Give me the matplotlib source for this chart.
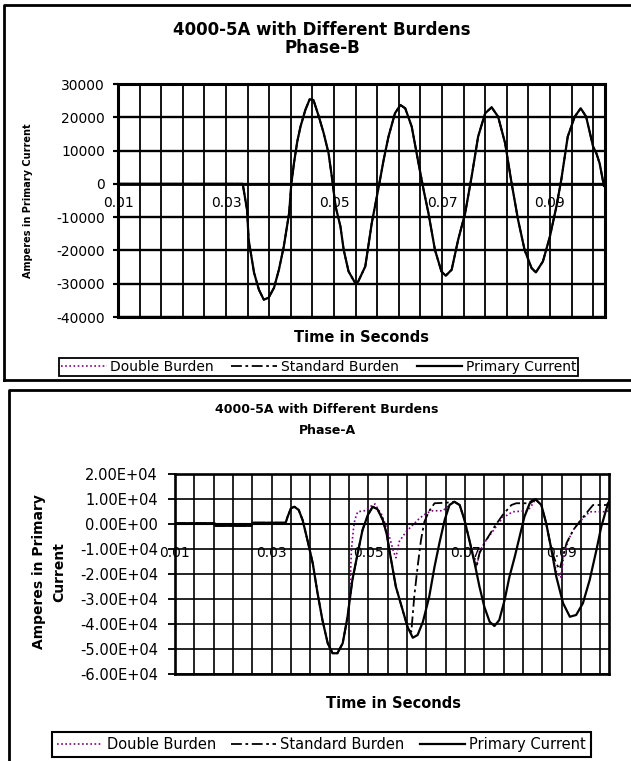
import numpy as np
import matplotlib
matplotlib.use("Agg")
import matplotlib.pyplot as plt
from matplotlib.lines import Line2D
from matplotlib.ticker import MultipleLocator, FuncFormatter

# ---- Phase-B (upper chart), seconds / amperes ----
time_b = [0.0100, 0.0331, 0.0339, 0.0342, 0.0352, 0.0361, 0.0370, 0.0379, 0.0389,
          0.0398, 0.0407, 0.0417, 0.0421, 0.0426, 0.0432, 0.0438, 0.0447, 0.0455,
          0.0462, 0.0472, 0.0481, 0.0490, 0.0496, 0.0503, 0.0512, 0.0518, 0.0527,
          0.0540, 0.0545, 0.0558, 0.0570, 0.0583, 0.0592, 0.0601, 0.0613, 0.0623,
          0.0632, 0.0644, 0.0656, 0.0666, 0.0675, 0.0687, 0.0699, 0.0707, 0.0718,
          0.0730, 0.0743, 0.0755, 0.0767, 0.0780, 0.0792, 0.0804, 0.0817, 0.0829,
          0.0841, 0.0853, 0.0866, 0.0874, 0.0887, 0.0900, 0.0912, 0.0921, 0.0933,
          0.0946, 0.0957, 0.0967, 0.0980, 0.0986, 0.0992, 0.1000]
primary_b = [0, 0, -7800, -16800, -26700, -31800, -34800, -34200, -31200,
             -25800, -18900, -8700, 0, 6300, 12700, 17200, 22200, 25400,
             25200, 20200, 15200, 9200, 2200, -6800, -12800, -19800, -26300,
             -30000, -29300, -24800, -11800, -800, 7200, 14200, 21200, 23700,
             22700, 17200, 6700, -1800, -8800, -19800, -26300, -27600, -25800,
             -16800, -8800, 2200, 14200, 21200, 23000, 20200, 12200, 200,
             -10800, -19800, -25300, -26600, -23300, -15800, -6800, 1200, 14200,
             20200, 22700, 20200, 11200, 9200, 6200, -600]
# both burden traces sit on top of the primary trace in this phase
standard_b = list(primary_b)
double_b = list(primary_b)

# ---- Phase-A (lower chart) ----
time_a = [0.0100, 0.0182, 0.0184, 0.0258, 0.0260, 0.0329, 0.0333, 0.0340, 0.0347,
          0.0356, 0.0364, 0.0374, 0.0385, 0.0395, 0.0405, 0.0416, 0.0426, 0.0436,
          0.0447, 0.0457, 0.0467, 0.0478, 0.0488, 0.0499, 0.0509, 0.0519, 0.0530,
          0.0538, 0.0545, 0.0557, 0.0571, 0.0581, 0.0592, 0.0602, 0.0613, 0.0626,
          0.0637, 0.0647, 0.0658, 0.0668, 0.0678, 0.0689, 0.0699, 0.0709, 0.0720,
          0.0730, 0.0740, 0.0751, 0.0761, 0.0771, 0.0782, 0.0792, 0.0803, 0.0813,
          0.0823, 0.0834, 0.0846, 0.0858, 0.0868, 0.0879, 0.0889, 0.0903, 0.0917,
          0.0930, 0.0944, 0.0958, 0.0972, 0.0982, 0.0993, 0.0998]
primary_a = [300, 300, -700, -700, 500, 500, 2900, 6300, 6900,
             5600, 1600, -6400, -15700, -27700, -38400, -47700, -51700, -51700,
             -47700, -37100, -22400, -11700, -2400, 3600, 6900, 5900, 1600,
             -4000, -12000, -25100, -34400, -41100, -45500, -44400, -39100, -29100,
             -17100, -7700, 1600, 7600, 8900, 7600, 1600, -6400, -15700,
             -25100, -33100, -39100, -40800, -38400, -30400, -21100, -13100, -5100,
             2900, 8300, 9900, 7600, 300, -10400, -21100, -31700, -37100,
             -36400, -31700, -22400, -10400, -1100, 6300, 8900]

time_a_std = [0.0100, 0.0182, 0.0184, 0.0258, 0.0260, 0.0329, 0.0333, 0.0340, 0.0347,
              0.0356, 0.0364, 0.0374, 0.0385, 0.0395, 0.0405, 0.0416, 0.0426, 0.0436,
              0.0447, 0.0457, 0.0467, 0.0478, 0.0488, 0.0499, 0.0509, 0.0519, 0.0530,
              0.0538, 0.0545, 0.0557, 0.0571, 0.0581, 0.0589, 0.0595, 0.0602, 0.0609,
              0.0616, 0.0625, 0.0637, 0.0661, 0.0678, 0.0689, 0.0699, 0.0709, 0.0716,
              0.0723, 0.0730, 0.0744, 0.0761, 0.0778, 0.0796, 0.0806, 0.0830, 0.0840,
              0.0846, 0.0858, 0.0868, 0.0879, 0.0889, 0.0896, 0.0910, 0.0924, 0.0937,
              0.0951, 0.0965, 0.0993, 0.0998]
standard_a = [300, 300, -700, -700, 500, 500, 2900, 6300, 6900,
              5600, 1600, -6400, -15700, -27700, -38400, -47700, -51700, -51700,
              -47700, -37100, -22400, -11700, -2400, 3600, 6900, 5900, 1600,
              -4000, -12000, -25100, -34400, -41100, -43100, -29100, -17100, -6400,
              900, 4900, 8300, 8500, 8900, 7600, 1600, -6400, -12000,
              -17700, -11700, -6400, -1100, 3600, 7600, 8300, 8300, 9500,
              9900, 7600, 300, -10400, -16000, -18000, -7700, -2400, 900,
              4300, 7600, 7600, 8900]

time_a_dbl = [0.0100, 0.0182, 0.0184, 0.0258, 0.0260, 0.0329, 0.0333, 0.0340, 0.0347,
              0.0356, 0.0364, 0.0374, 0.0385, 0.0395, 0.0405, 0.0416, 0.0426, 0.0436,
              0.0447, 0.0459, 0.0461, 0.0463, 0.0465, 0.0469, 0.0472, 0.0478, 0.0492,
              0.0509, 0.0514, 0.0520, 0.0527, 0.0535, 0.0545, 0.0552, 0.0557, 0.0564,
              0.0578, 0.0592, 0.0606, 0.0620, 0.0633, 0.0654, 0.0668, 0.0678, 0.0689,
              0.0699, 0.0709, 0.0718, 0.0726, 0.0730, 0.0744, 0.0761, 0.0778, 0.0799,
              0.0830, 0.0840, 0.0846, 0.0858, 0.0868, 0.0879, 0.0889, 0.0898, 0.0905,
              0.0915, 0.0924, 0.0937, 0.0951, 0.0958, 0.0993, 0.0998]
double_a = [300, 300, -700, -700, 500, 500, 2900, 6300, 6900,
            5600, 1600, -6400, -15700, -27700, -38400, -47700, -51700, -51700,
            -47700, -35700, -29100, -21100, -10400, -2400, 1600, 4900, 5300,
            7600, 8000, 6000, 4000, 0, -6000, -11000, -13500, -7000,
            -3100, -400, 2300, 4300, 5300, 5300, 7600, 8900, 7600,
            1600, -6400, -13000, -15700, -11000, -6400, -2000, 2500, 4900,
            5300, 8000, 9900, 7600, 300, -10400, -19000, -21500, -12000,
            -6000, -2400, 900, 3500, 4900, 4900, 5500]

series_names = ["Double Burden", "Standard Burden", "Primary Current"]
x_ticks = [0.01, 0.03, 0.05, 0.07, 0.09]
x_labels = ["0.01", "0.03", "0.05", "0.07", "0.09"]

W, H = 631, 761
fig = plt.figure(figsize=(W / 100, H / 100), dpi=100)


def px_rect(l, t, r, b):
    return [l / W, 1 - b / H, (r - l) / W, (b - t) / H]


def fig_line(xs, ys, lw):
    fig.add_artist(Line2D([x / W for x in xs], [1 - y / H for y in ys],
                          transform=fig.transFigure, color="k", lw=lw,
                          solid_capstyle="projecting"))


def setup_axes(ax, ylim, ystep, xmax, yfmt, xfs, yfs, vgrid_lw, hgrid_lw,
               border_lw, xpad, ylen, ypad):
    ax.set_xlim(0.01, xmax)
    ax.set_ylim(*ylim)
    ax.yaxis.set_major_locator(MultipleLocator(ystep))
    ax.yaxis.set_major_formatter(FuncFormatter(yfmt))
    ax.set_xticks(x_ticks)
    ax.set_xticklabels(x_labels)
    ax.xaxis.set_minor_locator(MultipleLocator(0.004, offset=0.002))
    ax.grid(which="both", axis="x", color="k", lw=vgrid_lw)
    ax.grid(which="major", axis="y", color="k", lw=hgrid_lw)
    ax.set_axisbelow(True)
    for s in ax.spines.values():
        s.set_linewidth(border_lw)
    # category labels hang from the zero line, as in the Excel original
    ax.spines["bottom"].set_position(("data", 0))
    ax.spines["bottom"].set_linewidth(hgrid_lw + 0.3)
    ax.plot([0, 1], [0, 0], transform=ax.transAxes, color="k", lw=border_lw,
            clip_on=False, solid_capstyle="projecting")
    ax.tick_params(axis="x", which="both", length=0, pad=xpad, labelsize=xfs)
    ax.tick_params(axis="y", direction="out", length=ylen, width=border_lw * 0.7,
                   pad=ypad, labelsize=yfs)


styles = [
    dict(color="#800080", ls=(0, (1, 1.5)), lw=1.2),
    dict(color="k", ls=(0, (6, 2, 1.5, 2)), lw=1.3),
    dict(color="k", ls="-", lw=1.6),
]

# ---------------- upper chart: Phase-B ----------------
fig_line([4, 4, 640], [380, 5, 5], 2.0)
fig_line([4, 640], [380, 380], 2.0)

ax1 = fig.add_axes(px_rect(118, 84, 605, 317))
setup_axes(ax1, (-40000, 30000), 10000, 0.1002, lambda v, p: f"{v:.0f}",
           10, 10, 1.3, 1.7, 2.2, 8.4, 3.6, 5.8)
h1 = []
for (t, v), name, st, z in zip([(time_b, double_b), (time_b, standard_b), (time_b, primary_b)],
                               series_names, styles, [2, 3, 4]):
    h1 += ax1.plot(t, v, label=name, zorder=z, **st)

fig.text(322 / W, 1 - 39 / H, "4000-5A with Different Burdens\nPhase-B",
         ha="center", va="center", fontsize=12, fontweight="bold",
         linespacing=0.97)
fig.text(362 / W, 1 - 337 / H, "Time in Seconds", ha="center", va="center",
         fontsize=10.5, fontweight="bold")
fig.text(28 / W, 1 - 201 / H, "Amperes in Primary Current", rotation=90,
         ha="center", va="center", fontsize=7, fontweight="bold")

leg1 = ax1.legend(h1, series_names, loc="center", ncol=3, mode="expand",
                  bbox_to_anchor=(59 / W, 1 - 377 / H, 519 / W, 20 / H),
                  bbox_transform=fig.transFigure, fontsize=10, frameon=True,
                  fancybox=False, framealpha=1, borderpad=0.12, borderaxespad=0,
                  handlelength=3.3, handletextpad=0.25, columnspacing=0.3)
leg1.get_frame().set_edgecolor("k")
leg1.get_frame().set_linewidth(1.3)

# ---------------- lower chart: Phase-A ----------------
fig_line([9, 9, 640], [770, 390, 390], 2.0)

ax2 = fig.add_axes(px_rect(175, 474, 609, 674))
setup_axes(ax2, (-60000, 20000), 10000, 0.0998, lambda v, p: f"{v:.2E}",
           10, 10.5, 1.2, 1.2, 1.9, 15.8, 5.0, 7.2)
h2 = []
for (t, v), name, st, z in zip([(time_a_dbl, double_a), (time_a_std, standard_a),
                                (time_a, primary_a)],
                               series_names, styles, [2, 3, 4]):
    h2 += ax2.plot(t, v, label=name, zorder=z, **st)

fig.text(327 / W, 1 - 420 / H, "4000-5A with Different Burdens\nPhase-A",
         ha="center", va="center", fontsize=9, fontweight="bold",
         linespacing=1.75)
fig.text(394 / W, 1 - 703 / H, "Time in Seconds", ha="center", va="center",
         fontsize=10.5, fontweight="bold")
fig.text(49 / W, 1 - 572 / H, "Amperes in Primary\nCurrent", rotation=90,
         ha="center", va="center", fontsize=10, fontweight="bold",
         multialignment="center", linespacing=1.5)

leg2 = ax2.legend(h2, series_names, loc="center", ncol=3, mode="expand",
                  bbox_to_anchor=(52 / W, 1 - 758 / H, 539 / W, 27 / H),
                  bbox_transform=fig.transFigure, fontsize=10.5, frameon=True,
                  fancybox=False, framealpha=1, borderpad=0.35, borderaxespad=0,
                  handlelength=3.1, handletextpad=0.3, columnspacing=0.4)
leg2.get_frame().set_edgecolor("k")
leg2.get_frame().set_linewidth(1.5)

fig.savefig("out.png", dpi=100)
